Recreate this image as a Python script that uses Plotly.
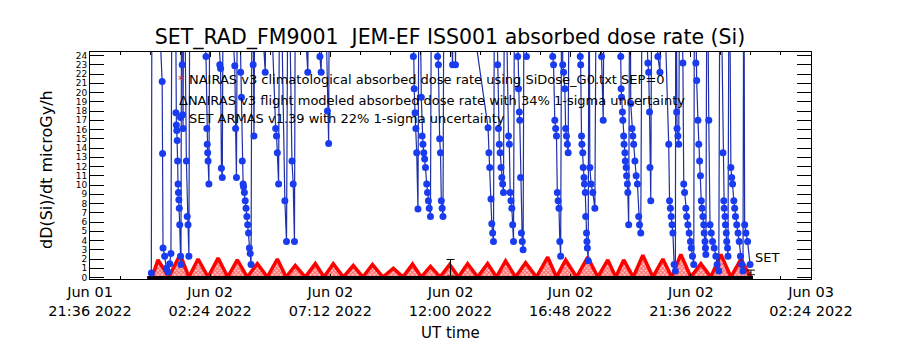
import plotly.graph_objects as go

DAY = "2022-06-02 "

# ARMAS measured dose rate (values > 24 run off the top of the plot)
blue_time = [
    "00:03","00:05","00:29","00:30","00:31","00:35","00:39","00:43","00:47","00:50","00:53",
    "01:00","01:02","01:03","01:04","01:05","01:06","01:07","01:08","01:09","01:10","01:11","01:13","01:14","01:16",
    "01:17","01:18","01:19","01:21",
    "01:27","01:29","01:31","01:33","01:36",
    "02:14","02:16","02:17","02:18","02:19","02:21","02:24",
    "02:47","02:49","02:51","02:53","02:56",
    "03:23","03:25","03:27","03:30",
    "03:37","03:39","03:41","03:43","03:44","03:46","03:48","03:50","03:52","03:54","03:56","03:58","04:00","04:02","04:05",
    "04:07","04:09","04:12",
    "04:36","04:40",
    "05:01","05:03","05:05","05:08","05:11",
    "05:23","05:27","05:31",
    "05:40","05:43","05:46","05:49",
    "06:18","06:22",
    "06:47","06:50","06:56",
    "07:05","07:08","07:10",
    "08:30",
    "10:28","10:31","10:33","10:35","10:37","10:39","10:42","10:45",
    "10:50","10:52","10:54","10:56","10:58","11:00","11:03","11:05","11:07","11:09","11:12","11:15",
    "11:29","11:31","11:34","11:36","11:38","11:40","11:42","11:45",
    "12:05","12:08","12:12","12:15",
    "13:30","13:32","13:34","13:37","13:39","13:41","13:43","13:46",
    "13:53","13:55","13:57","13:59","14:01","14:03","14:05","14:07","14:10",
    "14:19","14:21","14:23","14:25","14:27","14:29","14:31","14:34",
    "14:41","14:43","14:45","14:46","14:48","14:50","14:52","14:54","14:57",
    "15:02","15:05",
    "16:05","16:07","16:10","16:12","16:14","16:16","16:18","16:20","16:22","16:24","16:27",
    "16:29","16:31","16:34","16:36","16:38","16:40","16:42","16:45",
    "17:11","17:12","17:14","17:15","17:17","17:18","17:20","17:21","17:23","17:24","17:26","17:27","17:28","17:30","17:32",
    "17:34","17:37","17:41","17:46","17:50",
    "18:02","18:06","18:09",
    "18:48","18:49","18:50","18:52","18:53","18:55","18:56","18:58","18:59","19:01","19:02","19:04","19:05","19:07","19:10",
    "19:12","19:15","19:17","19:19","19:22","19:25","19:28","19:31","19:33","19:36","19:40",
    "19:53","19:55","19:57","19:58","20:00","20:03",
    "20:17","20:22","20:26",
    "20:43","20:45","20:47","20:49","20:51","20:53","20:56","20:59","21:00",
    "21:02","21:03","21:05","21:07","21:10",
    "21:17","21:19","21:21","21:24","21:26","21:29","21:32","21:35","21:37","21:40","21:43","21:45",
    "21:48","21:50","21:53","21:55","21:57","21:59","22:01","22:03","22:05","22:07","22:08","22:10","22:11","22:12","22:15",
    "22:19","22:22","22:25","22:28","22:32","22:36","22:39","22:43","22:46",
    "22:53","22:55","22:56","22:58","22:59","23:01","23:02","23:04","23:05","23:08",
    "23:12","23:14","23:16","23:19","23:21","23:23","23:26","23:29","23:32","23:35","23:38","23:41","23:43",
    "23:45","23:48","23:52","23:58",
]
blue_dose = [
    0.5,45,21.2,13.4,3.2,2.3,1.0,0.6,1.5,2.6,42,
    40,17.8,16.5,15.9,14.8,12.6,10.1,9.2,8.4,7.5,5.7,2.3,1.4,44,
    23.0,17.6,16.1,40,
    12.6,6.6,5.7,2.3,45,
    23.9,16.1,14.4,13.5,12.6,10.1,40,
    23.0,22.6,11.8,10.8,42,
    22.9,16.1,10.8,40,
    22.2,19.5,12.6,10.1,9.8,9.2,8.3,7.5,6.6,5.7,4.8,3.2,2.6,1.4,44,
    23.0,15.3,40,
    22.2,42,
    16.1,15.3,13.5,10.1,40,
    8.3,3.9,40,
    12.6,10.1,3.9,45,
    22.2,40,
    23.9,22.2,40,
    18.0,14.5,40,
    None,
    40,23.9,20.4,17.8,16.1,13.5,7.4,40,
    19.5,15.3,14.4,13.5,12.8,11.9,10.1,9.2,8.3,7.5,6.6,42,
    23.9,23.0,15.0,13.5,8.3,7.5,6.6,44,
    23.0,40,23.0,40,
    16.2,13.5,11.9,8.5,5.8,4.8,3.9,40,
    23.0,16.1,14.4,13.5,11.9,10.8,10.1,9.2,40,
    15.3,14.4,9.2,8.3,7.5,5.7,3.9,40,
    23.9,20.4,17.9,17.0,10.8,4.8,3.9,3.0,42,
    23.9,40,
    23.9,23.0,17.0,16.1,15.3,9.2,8.3,7.5,3.9,2.3,40,
    23.0,22.2,20.4,16.1,15.3,14.4,13.5,40,
    23.9,23.0,15.3,14.4,13.5,11.9,10.8,10.1,9.2,6.6,4.8,3.9,3.2,1.8,40,
    11.9,10.1,9.2,7.5,40,
    23.9,17.0,40,
    23.9,20.4,19.5,17.9,17.0,15.3,14.4,13.5,12.6,11.9,11.0,10.1,9.2,5.7,40,
    18.8,16.1,15.3,14.4,12.6,11.0,10.1,6.6,5.7,4.8,40,
    23.2,22.2,17.9,11.9,8.3,40,
    23.9,22.2,40,
    14.4,8.3,7.5,6.6,5.7,4.8,1.4,0.7,40,
    17.9,16.1,15.3,14.4,40,
    23.2,10.1,9.2,7.5,6.6,5.7,4.8,3.9,3.2,2.3,1.4,40,
    23.2,21.3,17.0,14.4,12.6,11.0,8.3,7.5,6.6,5.7,4.8,3.9,3.2,2.5,40,
    17.0,5.7,4.8,3.9,3.2,2.3,1.4,0.7,40,
    13.5,8.3,7.5,6.6,5.7,4.8,3.9,3.2,2.3,40,
    11.9,10.8,10.1,8.3,7.5,6.6,5.7,4.8,3.9,2.3,1.4,0.7,40,
    5.7,4.8,3.9,1.4,
]

# NAIRAS climatological dose rate (orbital oscillation)
red_time = ["00:05","00:19","00:45","01:12","01:33","01:55","02:19","02:43","03:06","03:29",
            "03:53","04:17","04:41","05:05","05:26","05:48","06:12","06:36","06:57","07:19",
            "07:43","08:07","08:30","08:53","09:18","09:43","10:06","10:29","10:50","11:12",
            "11:35","11:58","12:19","12:41","13:05","13:29","13:50","14:12","14:36","15:00",
            "15:26","15:53","16:14","16:36","17:02","17:29","17:53","18:17","18:36","18:55",
            "19:18","19:41","20:05","20:29","20:50","21:12","21:36","22:00","22:24","22:48",
            "23:12","23:36","23:59"]
red_dose = [0.1,1.9,0.05,2.5,0.05,2.0,0.05,2.1,0.05,1.9,
            0.05,1.5,0.05,2.0,0.05,1.3,0.05,1.5,0.05,1.5,
            0.05,1.3,0.05,1.4,0.05,1.0,0.05,1.45,0.05,1.2,
            0.05,1.4,0.05,1.5,0.05,1.5,0.05,1.8,0.05,1.6,
            0.05,2.2,0.05,1.9,0.05,2.2,0.05,1.9,0.05,1.9,
            0.05,2.4,0.05,2.0,0.05,2.5,0.05,1.5,0.05,2.5,
            0.05,2.0,0.1]

# NAIRAS flight modeled
model_time = ["2022-06-01 23:53", "2022-06-03 00:05"]
model_dose = [0.0, 0.0]
err_time = ["2022-06-02 12:00", "2022-06-03 00:00"]
err_dose = [1.05, 0.55]
err_sigma = [0.9, 0.25]

x_range = ["2022-06-01 21:36", "2022-06-03 02:24"]
y_range = [-0.16, 24.38]

title = "SET_RAD_FM9001  JEM-EF ISS001 absorbed dose rate (Si)"
legend_lines = [
    "NAIRAS v3 climatological absorbed dose rate using SiDose_G0.txt SEP=0",
    "\u0394NAIRAS v3 flight modeled absorbed dose rate with 34% 1-sigma uncertainty",
    "SET ARMAS v1.39 with 22% 1-sigma uncertainty",
]

assert len(blue_time) == len(blue_dose), (len(blue_time), len(blue_dose))
assert len(red_time) == len(red_dose)

FONT = "DejaVu Sans"

fig = go.Figure()
fig.add_trace(go.Scatter(
    x=[DAY + t for t in red_time], y=red_dose, mode="lines",
    line=dict(color="#ff0000", width=3.5),
    fill="tozeroy",
    fillpattern=dict(shape="x", fgcolor="#ff0000", bgcolor="#ffd0d0", size=3, solidity=0.6),
    showlegend=False))
fig.add_trace(go.Scatter(
    x=model_time, y=model_dose, mode="lines",
    line=dict(color="black", width=3), showlegend=False))
fig.add_trace(go.Scatter(
    x=err_time, y=err_dose, mode="markers",
    marker=dict(color="black", size=1),
    error_y=dict(type="data", array=err_sigma, color="black", thickness=1, width=4),
    showlegend=False))
fig.add_trace(go.Scatter(
    x=[DAY + t for t in blue_time], y=blue_dose, mode="lines+markers",
    line=dict(color="#1e2fa8", width=1.2),
    marker=dict(color="#1a3cf0", size=7, line=dict(width=0)),
    connectgaps=False, showlegend=False))

fig.add_annotation(x="2022-06-03 00:05", y=2.2, text="SET", showarrow=False,
                   xanchor="left", yanchor="middle", font=dict(family=FONT, size=13, color="black"))

# legend texts
leg_y = [80, 100, 118]
for txt, yp in zip(legend_lines, leg_y):
    x0 = 177 if txt.startswith("\u0394") else 187
    fig.add_annotation(xref="paper", yref="paper", x=(x0 - 90) / 721, y=(279 - yp) / 227,
                       text=txt, showarrow=False, xanchor="left", yanchor="middle",
                       font=dict(family=FONT, size=13, color="black"))
fig.add_annotation(xref="paper", yref="paper", x=(181 - 90) / 721, y=(279 - 80) / 227,
                   text="*", showarrow=False, xanchor="center", yanchor="middle",
                   font=dict(family=FONT, size=13, color="#c02060"))
fig.add_shape(type="circle", xref="paper", yref="paper",
              x0=(177 - 90) / 721, x1=(184 - 90) / 721,
              y0=(279 - 121) / 227, y1=(279 - 114) / 227,
              fillcolor="#1a3cf0", line=dict(width=0))

fig.add_annotation(xref="paper", yref="paper", x=(46 - 90) / 721, y=(279 - 170) / 227,
                   text="dD(Si)/dt microGy/h", textangle=-90, showarrow=False,
                   xanchor="center", yanchor="middle",
                   font=dict(family=FONT, size=16, color="black"))
fig.add_annotation(xref="paper", yref="paper", x=0.5, y=(279 - 333) / 227,
                   text="UT time", showarrow=False, xanchor="center", yanchor="middle",
                   font=dict(family=FONT, size=15, color="black"))

fig.update_layout(
    width=900, height=350,
    margin=dict(l=90, r=89, t=52, b=71),
    paper_bgcolor="white", plot_bgcolor="white",
    title=dict(text=title, x=0.5, xanchor="center", y=1 - 37 / 350, yanchor="middle",
               font=dict(family=FONT, size=20.5, color="black")),
    font=dict(family=FONT, color="black"),
    showlegend=False,
)
fig.update_xaxes(
    type="date", range=x_range,
    tick0=x_range[0], dtick=4.8 * 3600 * 1000,
    tickformat="%b %d<br>%H:%M %Y",
    ticks="inside", ticklen=5, tickcolor="black",
    minor=dict(ticks="inside", ticklen=3, dtick=1.2 * 3600 * 1000, tick0=x_range[0], tickcolor="black"),
    showline=True, linecolor="black", linewidth=1, mirror="ticks",
    showgrid=False, zeroline=False,
    tickfont=dict(family=FONT, size=14.5, color="black"),
)
fig.update_yaxes(
    range=y_range, tick0=0, dtick=1,
    ticks="inside", ticklen=14, tickcolor="black",
    showline=True, linecolor="black", linewidth=1, mirror="ticks",
    showgrid=False, zeroline=False,
    tickfont=dict(family=FONT, size=9, color="black"),
)

fig.write_html("out.html")
